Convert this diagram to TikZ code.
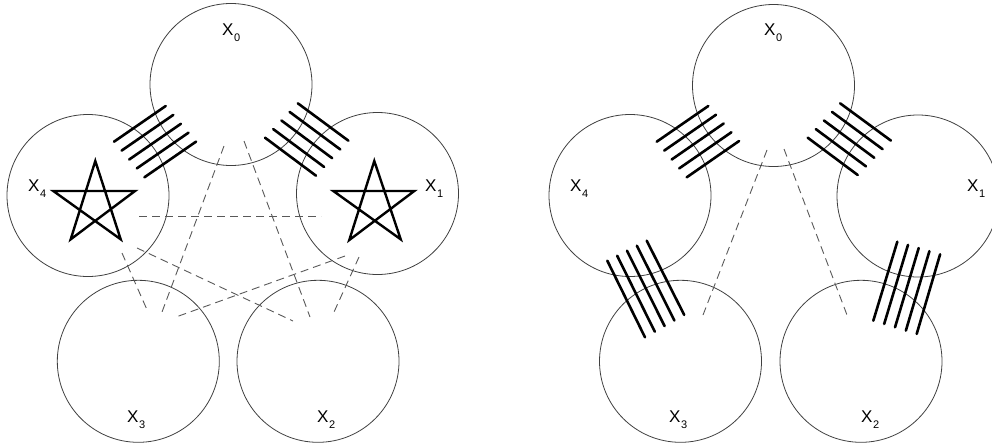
\documentclass[tikz,border=0pt]{standalone}
\usepackage{fontspec}
\setmainfont{Liberation Sans}
\newcommand\mylbl[1]{X\kern0.6pt\raisebox{-6pt}{\fontsize{11}{11}\selectfont #1}}
\tikzset{
  ring/.style={circle, draw=black!75, line width=0.8pt, minimum size=162pt, inner sep=0pt},
  lbl/.style={anchor=base west, inner sep=0pt, font=\fontsize{17}{17}\selectfont},
  hatch/.style={line width=2.6pt, line cap=round},
  rel/.style={draw=black!65, line width=0.9pt, dash pattern=on 8pt off 5pt},
  starline/.style={line width=2.4pt, line join=miter}
}
\begin{document}
\begin{tikzpicture}[x=1pt, y=-1pt]
\useasboundingbox (0,0) rectangle (992,447);
% ---------- left diagram ----------
\node[ring] (L0) at (231,84.5) {};
\node[ring] (L4) at (88,195.5) {};
\node[ring] (L1) at (377.5,193.5) {};
\node[ring] (L3) at (138.3,361.3) {};
\node[ring] (L2) at (318,361.3) {};
\node[lbl] (lL0) at (222,35) {\mylbl{0}};
\node[lbl] (lL4) at (28,191) {\mylbl{4}};
\node[lbl] (lL1) at (425,191) {\mylbl{1}};
\node[lbl] (lL3) at (127,422) {\mylbl{3}};
\node[lbl] (lL2) at (317,422) {\mylbl{2}};
% stars
\draw[starline] (95.3,161) -- (70.7,239.3) -- (135,191) -- (53.3,191) -- (120.7,239.3) -- cycle;
\draw[starline] (374.3,161) -- (349.3,240) -- (414.3,191) -- (333.3,191) -- (400.7,239.3) -- cycle;
% hatches
\foreach \i in {0,...,4} {
  \draw[hatch] ({114+\i*7.6},{141.7+\i*8.9}) -- ({165.7+\i*7.6},{106+\i*8.9});
  \draw[hatch] ({265+\i*8.2},{137.7-\i*8.6}) -- ({316+\i*8.1},{175.7-\i*8.75});
}
% dashed relations
\coordinate (h1) at (139,216); \coordinate (h2) at (321,216);
\coordinate (a1) at (224,146); \coordinate (a2) at (162,312);
\coordinate (b1) at (244,141); \coordinate (b2) at (310,317);
\coordinate (c1) at (137,248); \coordinate (c2) at (293,321);
\coordinate (d1) at (345,256); \coordinate (d2) at (176,317);
\coordinate (e1) at (122,253); \coordinate (e2) at (148,312);
\coordinate (f1) at (359,257); \coordinate (f2) at (334,312);
\draw[rel] (h1) -- (h2);
\draw[rel] (a1) -- (a2);
\draw[rel] (b1) -- (b2);
\draw[rel] (c1) -- (c2);
\draw[rel] (d1) -- (d2);
\draw[rel] (e1) -- (e2);
\draw[rel] (f1) -- (f2);
% ---------- right diagram ----------
\node[ring] (R0) at (773.5,85.5) {};
\node[ring] (R4) at (630,195.5) {};
\node[ring] (R1) at (918,196) {};
\node[ring] (R3) at (680.5,361.3) {};
\node[ring] (R2) at (861,361.3) {};
\node[lbl] (lR0) at (764,35) {\mylbl{0}};
\node[lbl] (lR4) at (570,191.5) {\mylbl{4}};
\node[lbl] (lR1) at (967,191) {\mylbl{1}};
\node[lbl] (lR3) at (669,422) {\mylbl{3}};
\node[lbl] (lR2) at (861,422) {\mylbl{2}};
\foreach \i in {0,...,4} {
  \draw[hatch] ({656.7+\i*7.5},{141.7+\i*8.9}) -- ({708.3+\i*7.7},{106+\i*8.75});
  \draw[hatch] ({807.7+\i*8.1},{137.7-\i*8.6}) -- ({857.7+\i*8.3},{175-\i*8.6});
  \draw[hatch] ({607.3+\i*9.85},{260.7-\i*5}) -- ({645+\i*9.8},{337.3-\i*5.6});
  \draw[hatch] ({897.3+\i*10.7},{241.7+\i*3.15}) -- ({873.3+\i*10.85},{320.7+\i*3.3});
}
\coordinate (p1) at (767,150); \coordinate (p2) at (703,315);
\coordinate (q1) at (784,149); \coordinate (q2) at (847,315);
\draw[rel] (p1) -- (p2);
\draw[rel] (q1) -- (q2);
\end{tikzpicture}
\end{document}
